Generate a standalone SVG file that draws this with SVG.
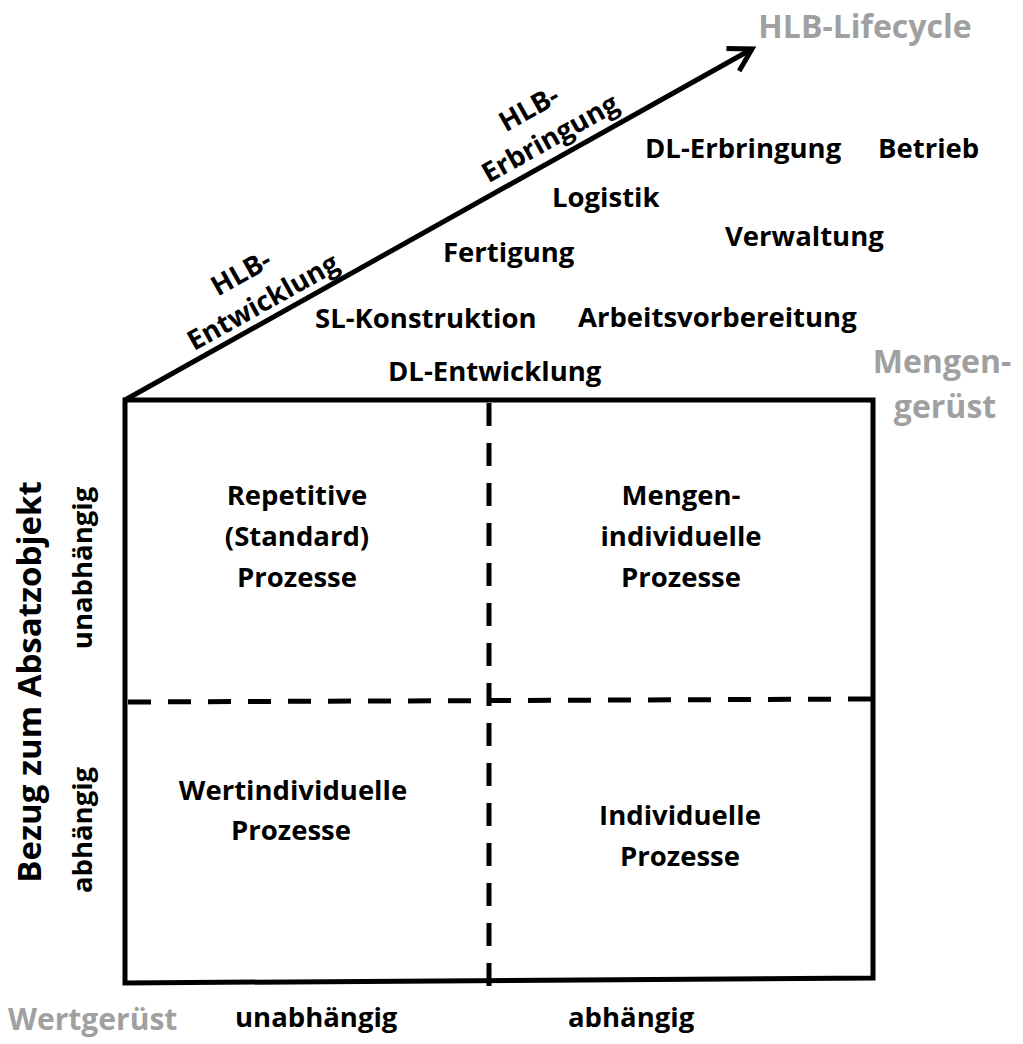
<svg xmlns="http://www.w3.org/2000/svg" width="1023" height="1044" viewBox="0 0 1023 1044">
<style>
text{font-family:"Open Sans","Noto Sans","Liberation Sans",sans-serif;font-weight:bold;fill:#000}
.g{fill:#a0a0a0}
.t{font-size:27.5px}
.c{text-anchor:middle}
.solid{stroke:#000;stroke-width:5;fill:none}
.dash{stroke:#000;stroke-width:5;fill:none;stroke-dasharray:23 17}
</style>
<defs>
<marker id="ah" markerUnits="userSpaceOnUse" markerWidth="40" markerHeight="40" refX="0" refY="0" orient="auto" viewBox="-30 -20 40 40">
<path d="M-22,-13 L0,0 L-22,13" fill="none" stroke="#000" stroke-width="5" stroke-linejoin="miter"/>
</marker>
</defs>
<g id="connectors">
<line class="solid" x1="125" y1="400" x2="752" y2="49" marker-end="url(#ah)"/>
<line class="dash" x1="489" y1="403" x2="489" y2="988"/>
<line class="dash" x1="128" y1="702" x2="878" y2="699"/>
</g>
<g id="box">
<path class="solid" d="M125,400 L873,400 L873,978 L125,983 Z"/>
</g>
<g id="lifecycle-title"><text class="g" x="865" y="38" font-size="32" text-anchor="middle">HLB-Lifecycle</text></g>
<g id="phase-entwicklung" transform="translate(272,318) rotate(-29.25)">
<text class="t c" x="-5" y="-45">HLB-</text>
<text class="t c" x="0" y="-9">Entwicklung</text>
</g>
<g id="phase-erbringung" transform="translate(560,156) rotate(-29.25)">
<text class="t c" x="-4" y="-47">HLB-</text>
<text class="t c" x="0" y="-11">Erbringung</text>
</g>
<g id="dl-erbringung"><text class="t" x="645" y="158">DL-Erbringung</text></g>
<g id="betrieb"><text class="t" x="878" y="158">Betrieb</text></g>
<g id="logistik"><text class="t" x="552" y="207">Logistik</text></g>
<g id="fertigung"><text class="t" x="443" y="262">Fertigung</text></g>
<g id="verwaltung"><text class="t" x="725" y="246">Verwaltung</text></g>
<g id="sl-konstruktion"><text class="t" x="315" y="328">SL-Konstruktion</text></g>
<g id="arbeitsvorbereitung"><text class="t" x="578" y="327">Arbeitsvorbereitung</text></g>
<g id="dl-entwicklung"><text class="t" x="388" y="381">DL-Entwicklung</text></g>
<g id="mengengeruest">
<text class="g c" x="942" y="373" font-size="32">Mengen-</text>
<text class="g c" x="945" y="418" font-size="32">gerüst</text>
</g>
<g id="q-repetitive">
<text class="t c" x="297" y="505">Repetitive</text>
<text class="t c" x="297" y="546">(Standard)</text>
<text class="t c" x="297" y="587">Prozesse</text>
</g>
<g id="q-mengenindividuell">
<text class="t c" x="681" y="505">Mengen-</text>
<text class="t c" x="681" y="546">individuelle</text>
<text class="t c" x="681" y="587">Prozesse</text>
</g>
<g id="q-wertindividuell">
<text class="t c" x="293" y="800">Wertindividuelle</text>
<text class="t c" x="291" y="840">Prozesse</text>
</g>
<g id="q-individuell">
<text class="t c" x="680" y="825">Individuelle</text>
<text class="t c" x="680" y="866">Prozesse</text>
</g>
<g id="y-axis-label"><text class="c" font-size="33" transform="translate(41,682) rotate(-90)">Bezug zum Absatzobjekt</text></g>
<g id="y-unabhaengig"><text class="t c" transform="translate(92,568) rotate(-90)">unabhängig</text></g>
<g id="y-abhaengig"><text class="t c" transform="translate(92,830) rotate(-90)">abhängig</text></g>
<g id="wertgeruest"><text class="g" x="8" y="1030" font-size="30">Wertgerüst</text></g>
<g id="x-unabhaengig"><text class="t" x="235" y="1027">unabhängig</text></g>
<g id="x-abhaengig"><text class="t" x="568" y="1027">abhängig</text></g>
</svg>
